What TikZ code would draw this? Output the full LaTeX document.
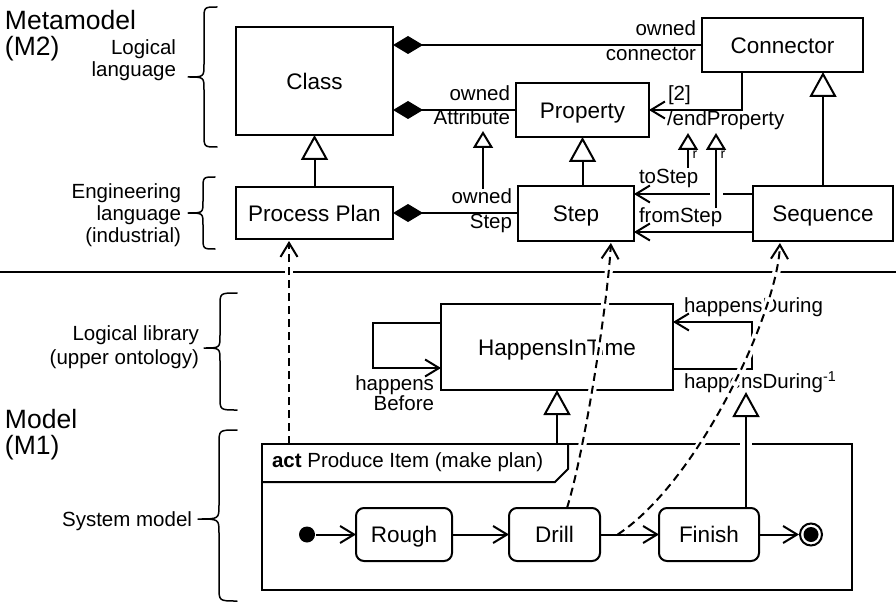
\documentclass[tikz,border=0pt]{standalone}
\usepackage{fontspec}
\setmainfont{Liberation Sans}
\usetikzlibrary{arrows.meta,calc}

\begin{document}
\begin{tikzpicture}[x=1pt, y=-1pt, line width=2pt,
  box/.style={draw, inner sep=0pt, outer sep=0pt, text height=16.1pt, text depth=0pt,
              font=\fontsize{22.5}{26}\selectfont},
  actbox/.style={box, rounded corners=8pt},
  lbl/.style={inner sep=0pt, font=\fontsize{20.5}{22.5}\selectfont},
  ttl/.style={inner sep=0pt, font=\fontsize{26.5}{28}\selectfont, anchor=base west},
  side/.style={inner sep=0pt, font=\fontsize{20.5}{22.5}\selectfont, anchor=base east},
  tiny/.style={inner sep=0pt, font=\fontsize{14}{14}\selectfont},
  gen/.style={arrows={-Triangle[open, length=25pt, width=27pt, fill=white]}},
  gensm/.style={arrows={-Triangle[open, length=17pt, width=20pt, fill=white]}},
  comp/.style={arrows={Diamond[length=30pt, width=18pt]-}},
  nav/.style={arrows={-Straight Barb[length=14pt, width=17pt]}},
  dep/.style={nav, dash pattern=on 8pt off 5pt, shorten >=2pt},
  halo/.style={preaction={draw=white, line width=#1, solid, arrows=-,
               shorten <=6pt, shorten >=6pt}},
  halo/.default=8pt,
  bracket/.style={line width=1.5pt, line cap=round, line join=round},
]
\useasboundingbox (0,0) rectangle (896,604);

% ---- level titles and braces ----
\node[ttl] at (4,30) {Metamodel};
\node[ttl] at (4,56) {(M2)};
\node[ttl] at (4,428) {Model};
\node[ttl] at (4,454) {(M1)};

\node[side] at (177,55) {Logical};
\node[side] at (177,77) {language};
\node[side] at (182,198) {Engineering};
\node[side] at (182,220) {language};
\node[side] at (182,242) {(industrial)};
\node[side] at (200,340) {Logical library};
\node[side] at (200,364) {(upper ontology)};
\node[side] at (193,526) {System model};

\draw[bracket] (217,7) .. controls (204,7) .. (204,20) -- (204,64)
  .. controls (204,77) .. (188,77) .. controls (204,77) .. (204,90)
  -- (204,134) .. controls (204,147) .. (217,147);
\draw[bracket] (215,177) .. controls (203,177) .. (203,189) -- (203,201)
  .. controls (203,213) .. (188,213) .. controls (203,213) .. (203,225)
  -- (203,237) .. controls (203,249) .. (215,249);
\draw[bracket] (237,293) .. controls (220,293) .. (220,306) -- (220,335)
  .. controls (220,348) .. (204,348) .. controls (220,348) .. (220,361)
  -- (220,397) .. controls (220,410) .. (237,410);
\draw[bracket] (237,430) .. controls (219,430) .. (219,444) -- (219,505)
  .. controls (219,519) .. (198,519) .. controls (219,519) .. (219,533)
  -- (219,587) .. controls (219,601) .. (237,601);

% separator between the two levels
\draw[line width=1.5pt] (0,272) -- (896,272);

% ---- metamodel classes ----
\node[box, minimum width=157pt, minimum height=108pt] (class) at (314.5,81) {Class};
\node[box, minimum width=161pt, minimum height=54pt] (connector) at (782.5,45) {Connector};
\node[box, minimum width=133pt, minimum height=54pt] (property) at (582.5,110) {Property};
\node[box, minimum width=157pt, minimum height=52pt] (plan) at (314.5,213) {Process Plan};
\node[box, minimum width=116pt, minimum height=55pt] (step) at (576,213.5) {Step};
\node[box, minimum width=140pt, minimum height=55pt] (sequence) at (823,213.5) {Sequence};

% compositions
\draw[comp] (class.east |- connector.west) -- (connector.west);
\node[lbl, anchor=mid east] at (697,33) {owned};
\node[lbl, anchor=mid east] at (697,58) {connector};

\draw[comp] (class.east |- property.west) -- (property.west);
\node[lbl, anchor=mid east] at (511,98) {owned};
\node[lbl, anchor=mid east] at (511,122) {Attribute};

\draw[comp] (plan.east) -- (plan.east -| step.west);
\node[lbl, anchor=mid east] at (513,201) {owned};
\node[lbl, anchor=mid east] at (513,226) {Step};

% generalizations
\draw[gen] (plan.north) -- (class.south);
\draw[gen] (property.south |- step.north) -- (property.south);
\draw[gen] (sequence.north) -- (sequence.north |- connector.south);

% connector ends
\draw[nav] ($(connector.south west)+(40,0)$) |- (property.east);
\node[lbl, anchor=mid west] at (667,98) {[2]};
\node[lbl, anchor=mid west] at (666,122.5) {/endProperty};

% sequence ends
\draw[nav] ($(sequence.west)+(0,-19.5)$) -- ($(step.east)+(0,-19.5)$);
\draw[nav] ($(sequence.west)+(0,18.5)$) -- ($(step.east)+(0,18.5)$);
\node[lbl, anchor=mid west] at (638,181) {toStep};
\node[lbl, anchor=mid west] at (638,220) {fromStep};

% association redefinitions
\coordinate (ownAttr) at (483,131);
\coordinate (ownStep) at (483,189);
\draw[gensm] (ownStep) -- (ownAttr);

\coordinate (endA) at (688,133);
\coordinate (toS) at (688,168);
\draw[gensm] (toS) -- (endA);
\node[tiny] at (695,155) {r};

\coordinate (endB) at (716,133);
\coordinate (fromS) at (716,208);
\draw[gensm, halo=13pt] (fromS) -- (endB);
\node[tiny] at (723,155) {r};

% ---- logical library ----
\node[box, minimum width=232pt, minimum height=86pt] (hit) at (557,347) {HappensInTime};

\draw[nav] ($(hit.west)+(0,-24)$) -- ++(-68,0) |- ($(hit.west)+(0,21)$);
\node[lbl, anchor=mid east] at (435,387.5) {happens};
\node[lbl, anchor=mid east] at (435,408) {Before};

\draw[nav] ($(hit.east)+(0,22)$) -- ++(79,0) |- ($(hit.east)+(0,-25)$);
\node[lbl, anchor=mid west] at (683,310) {happensDuring};
\node[lbl, anchor=mid west] at (683,386) {happensDuring\textsuperscript{-1}};

% ---- system model (activity) ----
\node[draw, inner sep=0pt, outer sep=0pt, minimum width=590pt, minimum height=146pt]
  (frame) at (557,517) {};
\draw ($(frame.north west)+(0,38)$) -- ++(293,0) -- ++(13,-13) -- ++(0,-25);
\node[lbl, anchor=mid west] at (271,465) {\textbf{act} Produce Item (make plan)};

\node[fill, circle, inner sep=0pt, minimum size=16pt] (init) at (307,534.5) {};
\node[actbox, minimum width=96pt, minimum height=53pt] (rough) at (404,534.5) {Rough};
\node[actbox, minimum width=91pt, minimum height=53pt] (drill) at (554.5,534.5) {Drill};
\node[actbox, minimum width=100pt, minimum height=53pt] (finish) at (709,534.5) {Finish};
\node[draw, circle, inner sep=0pt, minimum size=22pt] (final) at (811,534.5) {};
\fill (final.center) circle (7.5pt);

\draw[nav] (init) -- (rough);
\draw[nav] (rough) -- (drill);
\draw[nav] (drill) -- (finish);
\draw[nav] (finish) -- (final);

\draw[gen] (frame.north -| hit.south) -- (hit.south);
\coordinate (hdInv) at (746,392);
\draw[gen, halo=12pt] (finish.north -| hdInv) -- (hdInv);

% ---- instantiation dependencies ----
\coordinate (planDep) at ($(frame.north west)+(27,0)$);
\draw[dep, halo] (planDep) -- (planDep |- plan.south);
\draw[dep, halo] ($(drill.north)+(12.5,0)$) .. controls (585,450) and (608,300) .. ($(step.south)+(35,0)$);
\coordinate (trans) at ($(drill.east)!0.3!(finish.west)$);
\draw[dep, halo] (trans) .. controls (700,480) and (778,310) .. ($(sequence.south)+(-43,0)$);
\end{tikzpicture}
\end{document}
